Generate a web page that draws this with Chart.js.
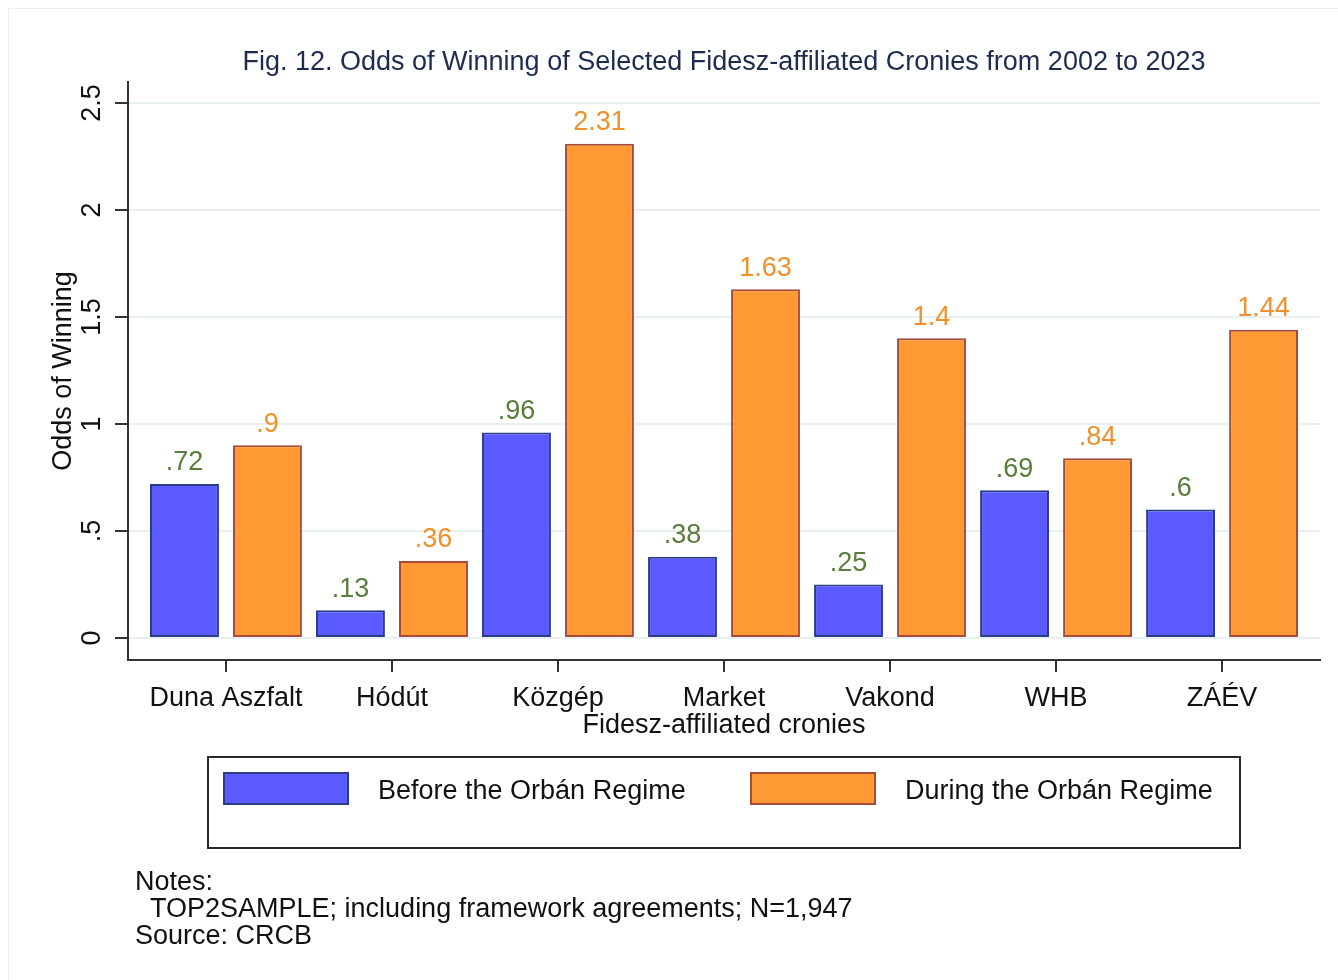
<!DOCTYPE html>
<html>
<head>
<meta charset="utf-8">
<script src="https://cdn.jsdelivr.net/npm/chart.js@4/dist/chart.umd.min.js"></script>
<style>
  html, body { margin: 0; padding: 0; background: #ffffff; }
  #wrap { width: 1338px; height: 980px; position: relative; }
</style>
</head>
<body>
<div id="wrap"><canvas id="c" width="1338" height="980"></canvas></div>
<script>
// ---- data ----
const categories = ["Duna Aszfalt", "Hódút", "Közgép", "Market", "Vakond", "WHB", "ZÁÉV"];
const beforeOrban = [0.72, 0.13, 0.96, 0.38, 0.25, 0.69, 0.6];
const duringOrban = [0.9, 0.36, 2.31, 1.63, 1.4, 0.84, 1.44];
const seriesLabels = ["Before the Orbán Regime", "During the Orbán Regime"];
const yTickValues = [0, 0.5, 1, 1.5, 2, 2.5];
const titleText = "Fig. 12. Odds of Winning of Selected Fidesz-affiliated Cronies from 2002 to 2023";
const xTitleText = "Fidesz-affiliated cronies";
const yTitleText = "Odds of Winning";
const notesLines = ["Notes:", "  TOP2SAMPLE; including framework agreements; N=1,947", "Source: CRCB"];

const FONT = '"Liberation Sans", Arial, Helvetica, sans-serif';
const FS = 27;
const fillColors = ["#5a5aff", "#ff9933"];
const borderColors = ["#2b3d82", "#a84a3a"];
const labelColors = ["#5a7d3c", "#f0902a"];

function stataFmt(v) {
  let s = String(v);
  if (s.startsWith("0.")) s = s.slice(1);
  return s;
}

const bgPlugin = {
  id: 'bg',
  beforeDraw(chart) {
    const ctx = chart.ctx;
    ctx.save();
    ctx.fillStyle = '#ffffff';
    ctx.fillRect(0, 0, chart.width, chart.height);
    ctx.strokeStyle = '#eeeeee';
    ctx.lineWidth = 1;
    ctx.beginPath();
    ctx.moveTo(8.5, chart.height);
    ctx.lineTo(8.5, 8.5);
    ctx.lineTo(chart.width, 8.5);
    ctx.stroke();
    ctx.restore();
  }
};

const valueLabels = {
  id: 'valueLabels',
  afterDatasetsDraw(chart) {
    const ctx = chart.ctx;
    ctx.save();
    ctx.font = FS + 'px ' + FONT;
    ctx.textAlign = 'center';
    ctx.textBaseline = 'middle';
    chart.data.datasets.forEach((ds, di) => {
      const meta = chart.getDatasetMeta(di);
      meta.data.forEach((bar, i) => {
        ctx.fillStyle = labelColors[di];
        ctx.fillText(stataFmt(ds.data[i].y), bar.x, bar.y - 21);
      });
    });
    ctx.restore();
  }
};

const legendBox = {
  id: 'legendBox',
  afterDraw(chart) {
    const ctx = chart.ctx;
    const area = chart.chartArea;
    const cx = (area.left + area.right) / 2;
    const boxW = 1032, boxH = 91;
    const bx = cx - boxW / 2, by = area.bottom + 97;
    ctx.save();
    ctx.strokeStyle = '#2a2a2a';
    ctx.lineWidth = 2;
    ctx.strokeRect(bx, by, boxW, boxH);
    ctx.font = FS + 'px ' + FONT;
    ctx.textBaseline = 'middle';
    ctx.textAlign = 'left';
    const itemX = [bx + 15, bx + 542];
    chart.data.datasets.forEach((ds, di) => {
      const sx = itemX[di], sy = by + 15;
      ctx.fillStyle = ds.backgroundColor;
      ctx.fillRect(sx, sy, 126, 33);
      ctx.strokeStyle = ds.borderColor;
      ctx.lineWidth = 2;
      ctx.strokeRect(sx + 1, sy + 1, 124, 31);
      ctx.fillStyle = '#111111';
      ctx.fillText(ds.label, sx + 155, sy + 20);
    });
    // notes
    ctx.fillStyle = '#111111';
    ctx.font = FS + 'px ' + FONT;
    ctx.textBaseline = 'middle';
    notesLines.forEach((t, i) => {
      ctx.fillText(t, 135, area.bottom + 223 + i * 27);
    });
    ctx.restore();
  }
};

const ctx = document.getElementById('c').getContext('2d');
new Chart(ctx, {
  type: 'bar',
  data: {
    datasets: [
      {
        label: seriesLabels[0],
        data: beforeOrban.map((v, i) => ({ x: i, y: v })),
        backgroundColor: fillColors[0],
        borderColor: borderColors[0],
        borderWidth: 2,
        borderSkipped: false
      },
      {
        label: seriesLabels[1],
        data: duringOrban.map((v, i) => ({ x: i, y: v })),
        backgroundColor: fillColors[1],
        borderColor: borderColors[1],
        borderWidth: 2,
        borderSkipped: false
      }
    ]
  },
  options: {
    responsive: false,
    animation: false,
    devicePixelRatio: 1,
    categoryPercentage: 1,
    barPercentage: 0.83,
    layout: { padding: { left: 0, right: 18, top: 0, bottom: 238 } },
    plugins: {
      legend: { display: false },
      tooltip: { enabled: false },
      title: {
        display: true,
        fullSize: false,
        text: titleText,
        color: '#1c2b4e',
        font: { family: FONT, size: FS, weight: 'normal' },
        padding: { top: 46, bottom: 3.6 }
      }
    },
    scales: {
      x: {
        type: 'linear',
        offset: false,
        min: -0.59,
        max: 6.59,
        afterBuildTicks(scale) { scale.ticks = categories.map((c, i) => ({ value: i })); },
        afterFit(scale) { scale.height = 82; scale.paddingLeft = 0; scale.paddingRight = 0; },
        ticks: {
          color: '#111111',
          font: { family: FONT, size: FS },
          padding: 10,
          maxRotation: 0,
          autoSkip: false,
          callback: (v) => categories[v]
        },
        grid: { offset: false, drawOnChartArea: false, tickLength: 12, tickColor: '#333333', lineWidth: 2 },
        border: { color: '#333333', width: 2 },
        title: {
          display: true,
          text: xTitleText,
          color: '#111111',
          font: { family: FONT, size: FS },
          padding: { top: 0, bottom: 0 }
        }
      },
      y: {
        min: -0.103,
        max: 2.598,
        afterBuildTicks(scale) { scale.ticks = yTickValues.map(v => ({ value: v })); },
        afterFit(scale) { scale.width = 128; scale.paddingTop = 0; scale.paddingBottom = 0; },
        ticks: {
          color: '#111111',
          font: { family: FONT, size: FS },
          minRotation: 90,
          maxRotation: 90,
          crossAlign: 'center',
          padding: 3.5,
          callback: (v) => stataFmt(v)
        },
        grid: { color: '#e8f0f2', lineWidth: 2, tickLength: 13, tickColor: '#333333' },
        border: { color: '#333333', width: 2 },
        title: {
          display: true,
          text: yTitleText,
          color: '#111111',
          font: { family: FONT, size: FS },
          padding: { top: 47, bottom: 0 }
        }
      }
    }
  },
  plugins: [bgPlugin, valueLabels, legendBox]
});
</script>
</body>
</html>
